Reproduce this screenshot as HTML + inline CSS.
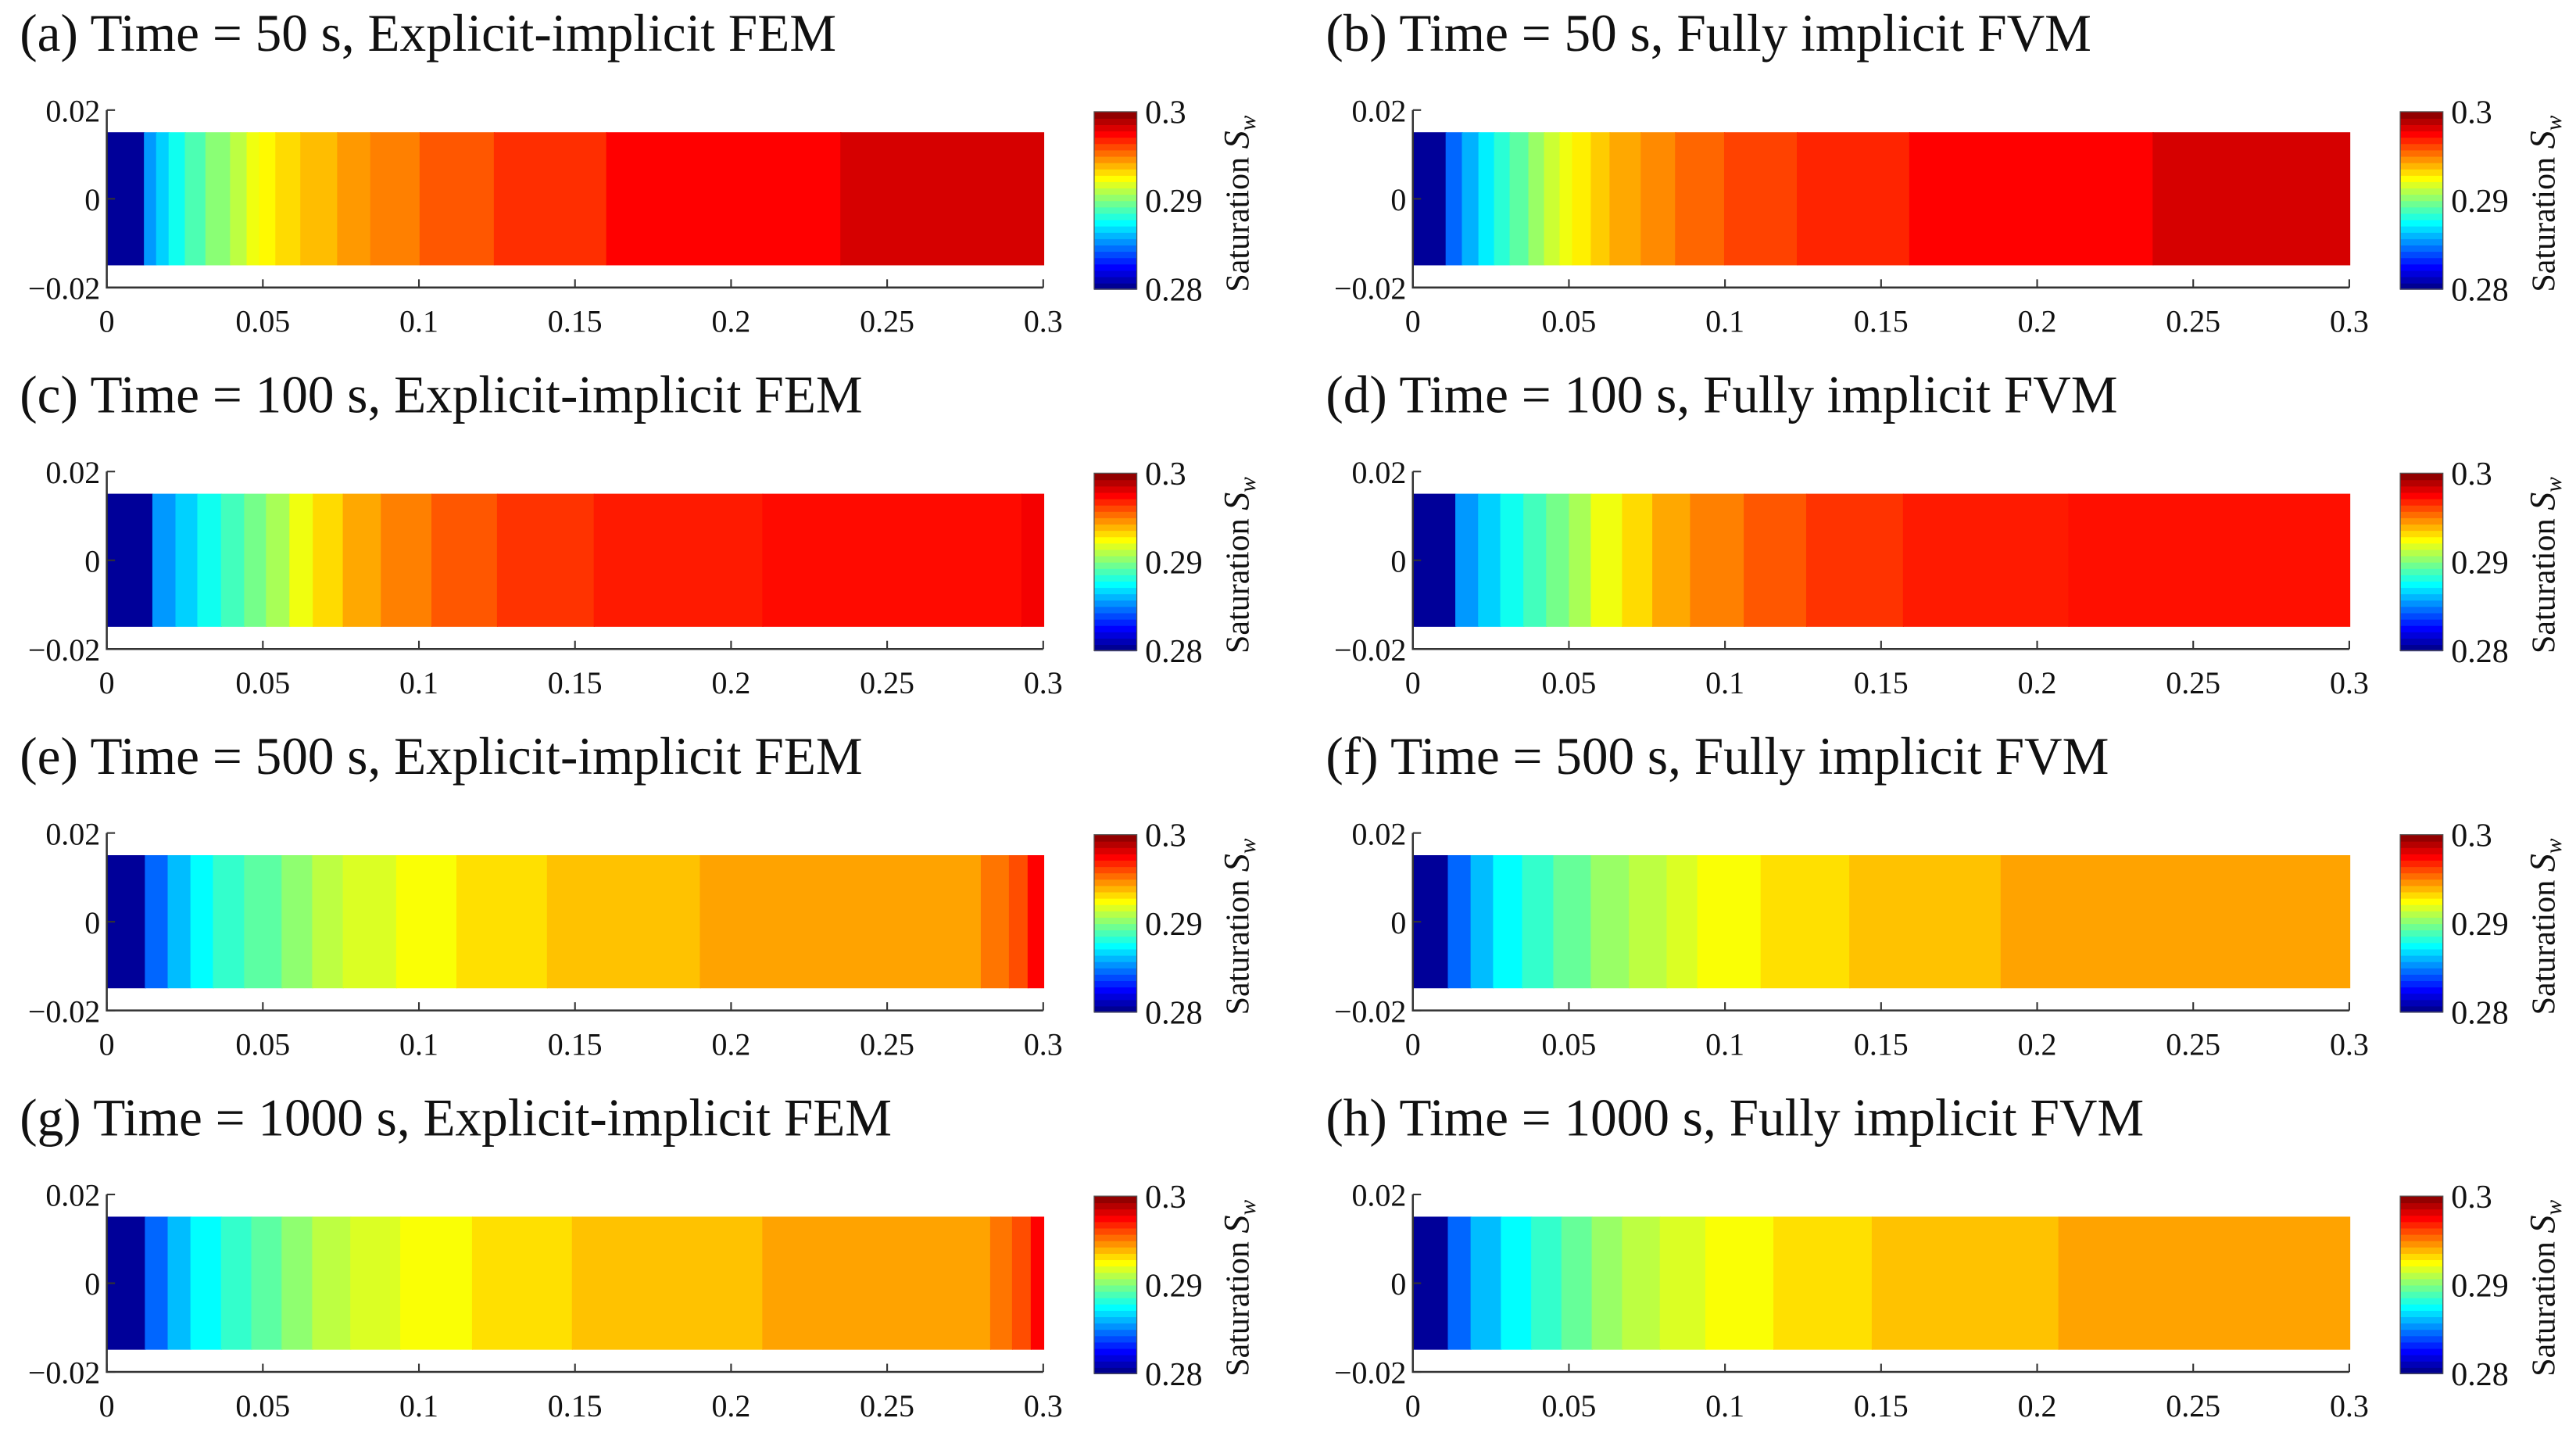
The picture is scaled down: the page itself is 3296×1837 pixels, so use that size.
<!DOCTYPE html>
<html><head><meta charset="utf-8">
<style>
html,body{margin:0;padding:0;background:#fff;}
svg{display:block;font-family:"Liberation Serif","DejaVu Serif",serif;}
svg text{font-family:"Liberation Serif","DejaVu Serif",serif;fill:#111;}
</style></head>
<body>
<svg id="fig" width="3296" height="1837" viewBox="0 0 1568 874" preserveAspectRatio="none" xmlns="http://www.w3.org/2000/svg" font-family="Liberation Serif, DejaVu Serif, serif"></svg>
<script>
// ---- data ----
const panelTitles = [
 "(a) Time = 50 s, Explicit-implicit FEM","(b) Time = 50 s, Fully implicit FVM",
 "(c) Time = 100 s, Explicit-implicit FEM","(d) Time = 100 s, Fully implicit FVM",
 "(e) Time = 500 s, Explicit-implicit FEM","(f) Time = 500 s, Fully implicit FVM",
 "(g) Time = 1000 s, Explicit-implicit FEM","(h) Time = 1000 s, Fully implicit FVM"];
// band right edges (x in m) and saturation values
const edgesA=[0.0119,0.0158,0.0198,0.025,0.0316,0.0395,0.0448,0.0488,0.054,0.062,0.0738,0.0844,0.1002,0.124,0.160,0.235,0.3];
const valsA =[0.2805,0.2855,0.2866,0.2878,0.289,0.2902,0.2912,0.2922,0.2926,0.2932,0.2938,0.2945,0.295,0.2958,0.2966,0.2975,0.2983];
const edgesB=[0.0105,0.0157,0.021,0.026,0.031,0.037,0.042,0.047,0.051,0.057,0.063,0.073,0.084,0.0997,0.123,0.159,0.237,0.3];
const valsB =[0.2805,0.2845,0.286,0.2872,0.2883,0.2893,0.2905,0.2915,0.2922,0.2928,0.2935,0.2942,0.2948,0.2955,0.2962,0.2968,0.2975,0.2983];
const edgesC=[0.0146,0.022,0.029,0.0366,0.044,0.051,0.0585,0.066,0.0756,0.0878,0.104,0.125,0.156,0.21,0.293,0.3];
const valsC =[0.2805,0.2855,0.2866,0.2878,0.2888,0.2898,0.2908,0.2922,0.2932,0.2942,0.295,0.2958,0.2965,0.297,0.2973,0.2977];
const edgesD=[0.0136,0.0209,0.028,0.0354,0.0427,0.05,0.057,0.067,0.0767,0.0888,0.106,0.126,0.157,0.21,0.3];
const valsD =[0.2805,0.2855,0.2866,0.2878,0.2888,0.2898,0.2908,0.2922,0.2932,0.2942,0.295,0.2958,0.2965,0.297,0.2972];
const edgesE=[0.0122,0.0195,0.0268,0.034,0.044,0.056,0.0658,0.0756,0.0927,0.112,0.141,0.19,0.28,0.289,0.295,0.3];
const valsE =[0.2805,0.2845,0.2862,0.2875,0.2885,0.2893,0.2903,0.2912,0.2918,0.2924,0.2931,0.2937,0.2943,0.2952,0.296,0.2975];
const edgesF=[0.0112,0.0185,0.0257,0.035,0.045,0.057,0.0692,0.0813,0.0911,0.1114,0.1398,0.1883,0.3];
const valsF =[0.2805,0.2845,0.2862,0.2875,0.2885,0.2895,0.2905,0.2912,0.2918,0.2924,0.2931,0.2937,0.2943];
const edgesG=[0.0122,0.0195,0.0268,0.0366,0.0463,0.056,0.0658,0.078,0.094,0.117,0.149,0.21,0.283,0.29,0.296,0.3];
const valsG =[0.2805,0.2845,0.2862,0.2875,0.2885,0.2893,0.2903,0.2912,0.2918,0.2924,0.2931,0.2937,0.2943,0.2952,0.296,0.2975];
const edgesH=[0.0112,0.0185,0.0282,0.0379,0.0476,0.0573,0.067,0.0791,0.0937,0.1155,0.147,0.2068,0.3];
const valsH =[0.2805,0.2845,0.2862,0.2875,0.2885,0.2895,0.2905,0.2912,0.2918,0.2924,0.2931,0.2937,0.2943];
const xTickLabels=["0","0.05","0.1","0.15","0.2","0.25","0.3"];
const xTickVals=[0,0.05,0.1,0.15,0.2,0.25,0.3];
const yTickLabels=["0.02","0","\u22120.02"];
const yTickVals=[0.02,0,-0.02];
const cbTickLabels=["0.3","0.29","0.28"];
const cbTickVals=[0.3,0.29,0.28];
const panelEdges=[edgesA,edgesB,edgesC,edgesD,edgesE,edgesF,edgesG,edgesH];
const panelVals=[valsA,valsB,valsC,valsD,valsE,valsF,valsG,valsH];

const NS="http://www.w3.org/2000/svg";
const svg=document.getElementById('fig');
const SERIF="Liberation Serif, DejaVu Serif, serif";
function el(tag,attrs,parent){const e=document.createElementNS(NS,tag);for(const k in attrs)e.setAttribute(k,attrs[k]);if(tag==='text')e.setAttribute('font-family',SERIF);(parent||svg).appendChild(e);return e;}
function jet(v){
  let t=(v-0.28)/0.02; t=Math.max(0,Math.min(1,t));
  const c=x=>Math.round(255*Math.max(0,Math.min(1,x)));
  const r=Math.min(4*t-1.5,-4*t+4.5),g=Math.min(4*t-0.5,-4*t+3.5),b=Math.min(4*t+0.5,-4*t+2.5);
  return `rgb(${c(r)},${c(g)},${c(b)})`;
}
for(let p=0;p<8;p++){
  const col=p%2,row=Math.floor(p/2);
  const ox=col*795, oy=row*220;
  const X0=65+ox,X1=635+ox,Y0=67+oy,Y1=175+oy;
  const sx=v=>X0+(v/0.3)*(X1-X0);
  const sy=v=>Y0+(0.02-v)/0.04*(Y1-Y0);
  const g=el('g',{});
  
  
  const t=el('text',{x:12+ox,y:31+oy,'font-size':32},g);
  t.textContent=panelTitles[p];
  
  
  // bands
  const E=panelEdges[p],V=panelVals[p];
  let prev=0;
  for(let i=0;i<E.length;i++){
    const r=el('rect',{x:sx(prev),y:sy(0.015),width:sx(E[i])-sx(prev)+0.6,height:sy(-0.015)-sy(0.015),fill:jet(V[i])},g);
    
    
    prev=E[i];
  }
  // axes
  const ax=el('path',{d:`M${X0},${Y0} V${Y1} H${X1}`,stroke:'#333',fill:'none','stroke-width':1.2},g);
  
  
  xTickVals.forEach((v,i)=>{
    el('line',{x1:sx(v),x2:sx(v),y1:Y1,y2:Y1-5,stroke:'#333','stroke-width':1},g);
    const tl=el('text',{x:sx(v),y:Y1+27,'font-size':19,'text-anchor':'middle'},g);
    tl.textContent=xTickLabels[i];
    
    
  });
  yTickVals.forEach((v,i)=>{
    el('line',{x1:X0,x2:X0+5,y1:sy(v),y2:sy(v),stroke:'#333','stroke-width':1},g);
    const tl=el('text',{x:X0-4,y:sy(v)+7,'font-size':19,'text-anchor':'end'},g);
    tl.textContent=yTickLabels[i];
    
    
  });
  // colorbar
  const CX=666+ox,CW=26,CY0=68+oy,CY1=176+oy,N=28;
  for(let k=0;k<N;k++){
    const v=0.28+(k+0.5)/N*0.02;
    el('rect',{x:CX,y:CY1-(k+1)*(CY1-CY0)/N,width:CW,height:(CY1-CY0)/N+0.4,fill:jet(v)},g);
  }
  const cbf=el('rect',{x:CX,y:CY0,width:CW,height:CY1-CY0,fill:'none',stroke:'#555','stroke-width':0.6},g);
  
  
  cbTickVals.forEach((v,i)=>{
    const yy=CY0+(0.3-v)/0.02*(CY1-CY0);
    const tl=el('text',{x:CX+31,y:yy+7,'font-size':20},g);
    tl.textContent=cbTickLabels[i];
    
    
  });
  const lab=el('text',{x:0,y:0,'font-size':20,'text-anchor':'middle',transform:`translate(${760+ox},${124+oy}) rotate(-90)`},g);
  lab.innerHTML='Saturation <tspan font-style="italic" font-size="22">S</tspan><tspan font-style="italic" font-size="14" dy="4">w</tspan>';
  
  
}
</script>
</body></html>
